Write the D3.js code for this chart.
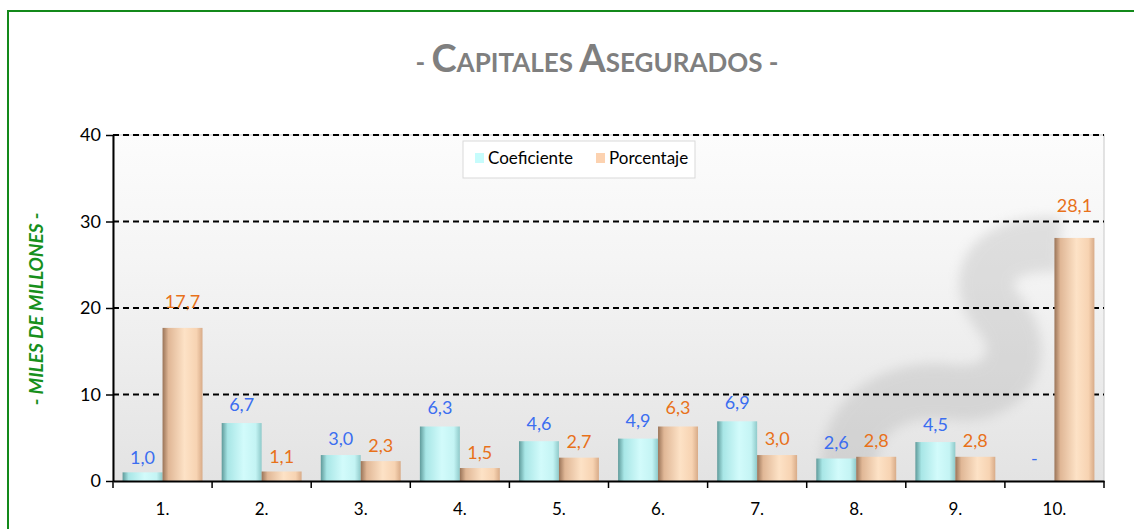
<!DOCTYPE html>
<html>
<head>
<meta charset="utf-8">
<script src="https://cdn.jsdelivr.net/npm/d3@7"></script>
<style>
  body { margin: 0; background: #fff; }
  svg { display: block; }
</style>
</head>
<body>
<div id="chart"></div>
<script>
// Données
const categories = ["1.", "2.", "3.", "4.", "5.", "6.", "7.", "8.", "9.", "10."];
const coeficiente = [1.0, 6.7, 3.0, 6.3, 4.6, 4.9, 6.9, 2.6, 4.5, null];
const porcentaje = [17.7, 1.1, 2.3, 1.5, 2.7, 6.3, 3.0, 2.8, 2.8, 28.1];
const series = ["Coeficiente", "Porcentaje"];
const yTicks = [0, 10, 20, 30, 40];

const width = 1134;
const height = 529;
const marginTop = 135;
const marginRight = 30;
const marginBottom = 48;
const marginLeft = 113;
const font = "Lato, 'Open Sans', sans-serif";

const rows = categories.map((c, i) => ({cat: c, Coeficiente: coeficiente[i], Porcentaje: porcentaje[i]}));

const x0 = d3.scaleBand(categories, [marginLeft, width - marginRight]).paddingInner(0).paddingOuter(0);
const x1 = d3.scaleBand(series, [0, x0.bandwidth()]).paddingInner(0).paddingOuter(0.24);
const y = d3.scaleLinear([0, 40], [height - marginBottom, marginTop]);

const fmt = v => v == null ? "-" : d3.format(".1f")(v).replace(".", ",");
const labelColor = {Coeficiente: "#3b6ef0", Porcentaje: "#e8711a"};

const svg = d3.create("svg")
    .attr("viewBox", [0, 0, width, height])
    .attr("width", width)
    .attr("height", height);

const defs = svg.append("defs");
const bg = defs.append("linearGradient").attr("id", "bg").attr("x1", 0).attr("y1", 0).attr("x2", 0).attr("y2", 1);
bg.append("stop").attr("offset", "0%").attr("stop-color", "#fcfcfc");
bg.append("stop").attr("offset", "35%").attr("stop-color", "#f5f5f5");
bg.append("stop").attr("offset", "100%").attr("stop-color", "#e3e3e3");

const grads = {
  Coeficiente: ["#5f9a9a", "#a8e6e6", "#d2fbfb", "#c4f4f4", "#8fcaca"],
  Porcentaje: ["#9a7458", "#e0b796", "#fde2c6", "#f7d3b2", "#d8ab88"]
};
Object.entries(grads).forEach(([k, cols]) => {
  const g = defs.append("linearGradient").attr("id", "g" + k).attr("x1", 0).attr("x2", 1).attr("y1", 0).attr("y2", 0);
  [0, 0.15, 0.55, 0.85, 1].forEach((o, i) => g.append("stop").attr("offset", o).attr("stop-color", cols[i]));
});
const blur = defs.append("filter").attr("id", "blur")
    .attr("filterUnits", "userSpaceOnUse")
    .attr("x", marginLeft).attr("y", marginTop)
    .attr("width", width - marginRight - marginLeft).attr("height", height - marginBottom - marginTop);
blur.append("feGaussianBlur").attr("stdDeviation", 6);

// Cadre vert
svg.append("rect")
    .attr("x", 8).attr("y", 11)
    .attr("width", width + 20).attr("height", height + 20)
    .attr("fill", "none")
    .attr("stroke", "#13891a")
    .attr("stroke-width", 2);

// Titre
const title = svg.append("text")
    .attr("x", 597).attr("y", 72)
    .attr("text-anchor", "middle")
    .attr("font-family", font)
    .attr("font-weight", "bold")
    .attr("fill", "#7f7f7f");
[["- ", 26], ["C", 38], ["APITALES ", 26], ["A", 38], ["SEGURADOS -", 26]].forEach(([t, s]) =>
  title.append("tspan").attr("font-size", s).text(t));

// Fond de la zone de tracé
svg.append("rect")
    .attr("x", marginLeft).attr("y", marginTop)
    .attr("width", width - marginRight - marginLeft)
    .attr("height", height - marginBottom - marginTop)
    .attr("fill", "url(#bg)")
    .attr("stroke", "#c8c8c8");

// filigrane discret
svg.append("g")
    .attr("filter", "url(#blur)")
    .attr("opacity", 0.3)
    .call(g => g.append("path")
      .attr("d", "M850,480 C840,420 890,385 950,392 C1010,400 1030,350 1000,315 C970,280 990,240 1060,245")
      .attr("fill", "none")
      .attr("stroke", "#a8a8a8")
      .attr("stroke-width", 55));

// Grille
svg.append("g")
    .selectAll("line")
    .data(yTicks.filter(d => d > 0))
    .join("line")
      .attr("x1", marginLeft).attr("x2", width - marginRight)
      .attr("y1", d => y(d)).attr("y2", d => y(d))
      .attr("stroke", "#000")
      .attr("stroke-width", 2)
      .attr("stroke-dasharray", "6,4");

// Barres
const groups = svg.append("g")
    .selectAll("g")
    .data(rows)
    .join("g")
      .attr("transform", d => `translate(${x0(d.cat)},0)`);

groups.selectAll("rect")
    .data(d => series.map(k => ({key: k, value: d[k]})).filter(d => d.value != null))
    .join("rect")
      .attr("x", d => x1(d.key))
      .attr("y", d => y(d.value))
      .attr("width", x1.bandwidth())
      .attr("height", d => y(0) - y(d.value))
      .attr("fill", d => `url(#g${d.key})`);

groups.selectAll("text")
    .data(d => series.map(k => ({key: k, value: d[k]})))
    .join("text")
      .attr("x", d => x1(d.key) + x1.bandwidth() / 2)
      .attr("y", d => y(d.value || 0) - 8 - 0.65 * (d.value || 0) - (d.value == null ? 8 : 0))
      .attr("text-anchor", "middle")
      .attr("font-family", font)
      .attr("font-size", 18)
      .attr("fill", d => labelColor[d.key])
      .text(d => fmt(d.value));

// Axes
svg.append("g")
    .attr("transform", `translate(0,${y(0)})`)
    .call(d3.axisBottom(x0).tickSize(0).tickPadding(22))
    .call(g => g.select(".domain").attr("stroke-width", 2))
    .call(g => g.selectAll("text").attr("font-size", 17).attr("font-family", font).attr("fill", "#000"));

svg.append("g")
    .selectAll("line")
    .data(categories.map(c => x0(c)).concat([x0.range()[1]]))
    .join("line")
      .attr("x1", d => d).attr("x2", d => d)
      .attr("y1", y(0)).attr("y2", y(0) + 7)
      .attr("stroke", "#000").attr("stroke-width", 1.5);

svg.append("g")
    .attr("transform", `translate(${marginLeft},0)`)
    .call(d3.axisLeft(y).tickValues(yTicks).tickSize(7).tickPadding(5).tickSizeOuter(0))
    .call(g => g.select(".domain").attr("stroke-width", 2))
    .call(g => g.selectAll("line").attr("stroke-width", 1.5))
    .call(g => g.selectAll("text").attr("font-size", 18).attr("font-family", font).attr("fill", "#000"));

// Titre de l'axe Y
svg.append("text")
    .attr("transform", `translate(43,309) rotate(-90)`)
    .attr("text-anchor", "middle")
    .attr("font-family", font)
    .attr("font-size", 19)
    .attr("font-weight", "bold")
    .attr("font-style", "italic")
    .attr("fill", "#16901c")
    .text("- MILES DE MILLONES -");

// Légende
const legend = svg.append("g").attr("transform", "translate(463,141)");
legend.append("rect")
    .attr("width", 232).attr("height", 37)
    .attr("fill", "#fff")
    .attr("stroke", "#d9d9d9");
const legendX = [12, 133];
series.forEach((s, i) => {
  legend.append("rect")
      .attr("x", legendX[i]).attr("y", 12)
      .attr("width", 9).attr("height", 10)
      .attr("fill", i === 0 ? "#c6fcfc" : "#fcd2b0");
  legend.append("text")
      .attr("x", legendX[i] + 13).attr("y", 23)
      .attr("font-family", font)
      .attr("font-size", 17)
      .attr("fill", "#000")
      .text(s);
});

document.getElementById("chart").appendChild(svg.node());
</script>
</body>
</html>
